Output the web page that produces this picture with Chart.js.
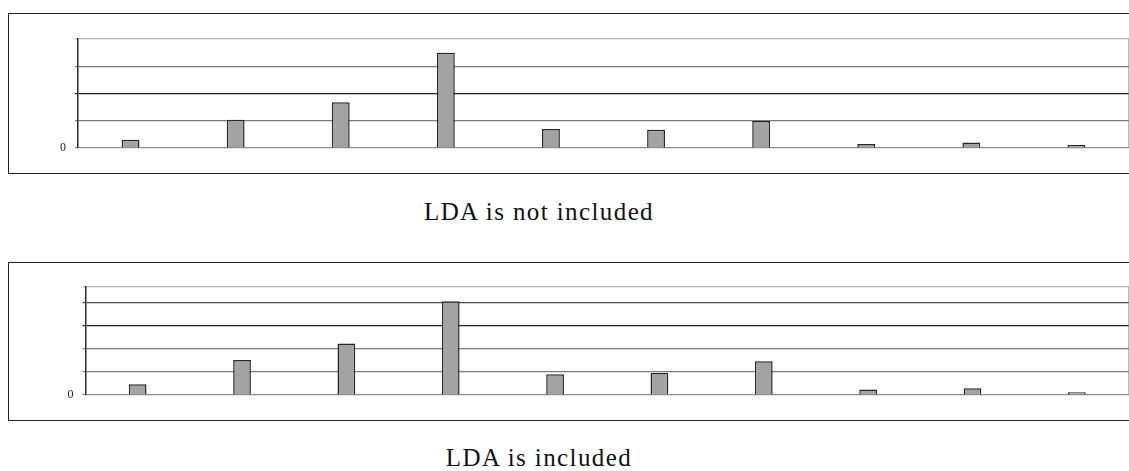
<!DOCTYPE html>
<html>
<head>
<meta charset="utf-8">
<script src="https://cdn.jsdelivr.net/npm/chart.js@4.4.1/dist/chart.umd.min.js"></script>
<style>
  html, body { margin: 0; padding: 0; background: #fff; overflow: hidden; }
  body { width: 1129px; height: 471px; position: relative; }
  .panel { position: absolute; left: 8px; width: 1140px; border: 1.5px solid #222; box-sizing: border-box; }
  .panel canvas { position: absolute; left: 0; top: 0; }
  .cap { position: absolute; width: 600px; left: 239px; text-align: center;
         font-family: "Liberation Serif", "Times New Roman", "DejaVu Serif", serif;
         font-size: 25px; line-height: 25px; letter-spacing: 1.4px; color: #111; }
</style>
</head>
<body>
<div class="panel" style="top:13px;height:161px;">
  <div style="position:absolute;left:-1.5px;top:-1.5px;width:1121px;height:161px;"><canvas id="chartA"></canvas></div>
</div>
<div class="cap" style="top:199px;">LDA is not included</div>
<div class="panel" style="top:262px;height:159px;">
  <div style="position:absolute;left:-1.5px;top:-1.5px;width:1121px;height:159px;"><canvas id="chartB"></canvas></div>
</div>
<div class="cap" style="top:445px;">LDA is included</div>

<script>
// 카테고리 (라벨 없음)
const categories = ['1', '2', '3', '4', '5', '6', '7', '8', '9', '10'];

// LDA 미포함
const valuesWithout = [3.0, 10.4, 16.8, 35.0, 7.0, 6.7, 9.9, 1.5, 2.0, 1.1];
const ticksWithout = [0, 10, 20, 30, 40];

// LDA 포함
const valuesWith = [4.6, 15.1, 22.2, 40.4, 8.9, 9.5, 14.6, 2.4, 2.9, 1.2];
const ticksWith = [0, 10, 20, 30, 40, 46.6];

const serif = '"Liberation Serif", "Times New Roman", "DejaVu Serif", serif';

// 플롯 영역 오른쪽 테두리
const rightBorder = {
  id: 'rightBorder',
  afterDraw(chart) {
    const { ctx, chartArea } = chart;
    ctx.save();
    ctx.strokeStyle = '#8c8c8c';
    ctx.lineWidth = 1.2;
    ctx.beginPath();
    ctx.moveTo(chartArea.right, chartArea.top);
    ctx.lineTo(chartArea.right, chartArea.bottom);
    ctx.stroke();
    ctx.restore();
  },
};

function makeChart(id, values, tickVals, gridColors, axisWidth, pad) {
  new Chart(document.getElementById(id), {
    type: 'bar',
    data: {
      labels: categories,
      datasets: [{
        data: values,
        backgroundColor: '#a3a3a3',
        borderColor: '#262626',
        borderWidth: 1.5,
        barPercentage: 0.17,
        categoryPercentage: 1,
      }],
    },
    options: {
      responsive: true,
      maintainAspectRatio: false,
      animation: false,
      layout: { padding: pad },
      plugins: { legend: { display: false }, tooltip: { enabled: false } },
      scales: {
        x: { display: false },
        y: {
          min: 0,
          max: tickVals[tickVals.length - 1],
          afterBuildTicks: (s) => { s.ticks = tickVals.map((v) => ({ value: v })); },
          afterFit: (s) => { s.width = axisWidth; },
          border: { color: '#2a2a2a', width: 1.5 },
          grid: {
            color: (c) => gridColors[c.index] || '#888',
            lineWidth: 1.2,
            tickLength: 3,
          },
          ticks: {
            padding: 9,
            color: '#222',
            font: { family: serif, size: 12 },
            callback: (v) => (v === 0 ? '0' : ''),
          },
        },
      },
    },
    plugins: [rightBorder],
  });
}

makeChart('chartA', valuesWithout, ticksWithout,
  ['#8a8a8a', '#7a7a7a', '#1e1e1e', '#7a7a7a', '#b4b4b4'], 70,
  { top: 26, bottom: 26, left: 0, right: 0 });

makeChart('chartB', valuesWith, ticksWith,
  ['#8a8a8a', '#7a7a7a', '#7a7a7a', '#1e1e1e', '#4a4a4a', '#b4b4b4'], 77.5,
  { top: 25, bottom: 26, left: 0, right: 0 });
</script>
</body>
</html>
